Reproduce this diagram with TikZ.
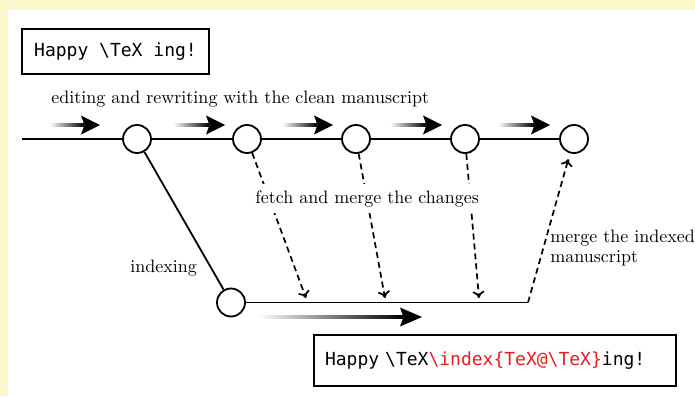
\documentclass[tikz,border=0pt]{standalone}
\usepackage{fontspec}
\newfontfamily\codefont{DejaVu Sans Mono}
\usetikzlibrary{arrows.meta}
\definecolor{creambg}{RGB}{250,247,202}
\definecolor{codered}{RGB}{230,30,36}
\newcommand\gradarrow[4]{% x-start, x-tip, y, head length
  \shade[left color=white,right color=black] (#1,#3-1.8) rectangle (#2-#4+3,#3+1.8);
  \fill (#2,#3) -- (#2-#4,#3-9.5) -- (#2-#4+3.5,#3) -- (#2-#4,#3+9.5) -- cycle;}
\begin{document}
\begin{tikzpicture}[x=1pt,y=-1pt,
  commit/.style={circle,draw,line width=1.8pt,fill=white,minimum size=28pt,inner sep=0pt},
  codebox/.style={draw,line width=1.5pt,font=\codefont\fontsize{18}{21}\selectfont,inner ysep=0pt},
  lbl/.style={font=\fontsize{10}{11}\selectfont,scale=1.8,inner sep=0pt},
  branch/.style={line width=1.8pt},
  fetch/.style={line width=1.7pt,dash pattern=on 6pt off 4pt,-{To[length=7pt,width=12pt]}}]
\useasboundingbox (0,0) rectangle (695,396);
\fill[creambg] (0,0) rectangle (695,396);
\fill[white] (8,10) rectangle (695,396);
% commits
\coordinate (s) at (22,139);
\node[commit] (c1) at (137,139) {};
\node[commit] (c2) at (247,139) {};
\node[commit] (c3) at (356,139) {};
\node[commit] (c4) at (465,139) {};
\node[commit] (c5) at (574,139) {};
\node[commit] (d) at (231,302.5) {};
\coordinate (m) at (528,302.5);
\coordinate (f1) at (306,298);
\coordinate (f2) at (385,298);
\coordinate (f3) at (479,298);
% lines
\draw[branch] (s) -- (c1) -- (c2) -- (c3) -- (c4) -- (c5);
\draw[branch] (c1) -- (d);
\draw[branch] (d) -- (m);
\draw[fetch] (c2) -- (f1);
\draw[fetch] (c3) -- (f2);
\draw[fetch] (c4) -- (f3);
\draw[fetch,shorten >=6pt] (m) -- (c5);
% gradient arrows
\gradarrow{50}{100}{125}{19}
\gradarrow{173}{225}{125}{19}
\gradarrow{282}{333}{125}{19}
\gradarrow{390}{442}{125}{19}
\gradarrow{498}{550}{125}{19}
\gradarrow{258}{422}{317}{22}
% labels
\node[lbl,anchor=base west] (t1) at (51,103) {editing and rewriting with the clean manuscript};
\node[lbl,anchor=base west,fill=white,inner ysep=3.5pt,inner xsep=0pt] (t2) at (255,203) {fetch and merge the changes};
\node[lbl,anchor=base west] (t3) at (130,272) {indexing};
\node[lbl,anchor=base west,align=left] (t4) at (550,262) {merge the indexed\\manuscript};
% code boxes
\node[codebox,minimum width=187pt,minimum height=45pt] (b1) at (115.5,51.5) {Happy \textbackslash TeX ing!};
\node[codebox,minimum height=51pt,text width=340pt,inner xsep=11pt,align=left] (b2) at (495,360.5)
  {Happy \textbackslash TeX{\color{codered}\textbackslash index\{TeX@\textbackslash TeX\}}ing!};
\end{tikzpicture}
\end{document}
